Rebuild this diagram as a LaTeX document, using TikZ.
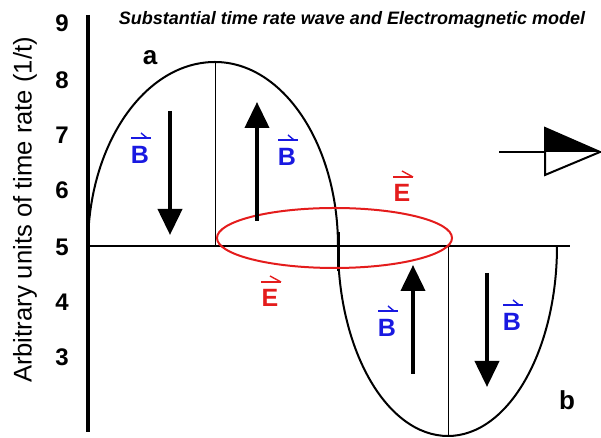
\documentclass[tikz,border=0pt]{standalone}
\usepackage{fontspec}
\setmainfont{Liberation Sans}
\usetikzlibrary{arrows.meta,calc}
\definecolor{vb}{RGB}{25,25,225}
\definecolor{vr}{RGB}{228,28,28}
\tikzset{
  curve/.style={line width=1pt, black},
  thinline/.style={line width=0.5pt, black},
  fieldarrow/.style={line width=2pt, -{Triangle[length=13pt,width=12pt]}},
  tick/.style={font=\fontsize{12}{12}\selectfont\bfseries, inner sep=0pt},
  blab/.style={font=\fontsize{12.5}{12}\selectfont\bfseries, text=vb, inner sep=0pt},
  elab/.style={font=\fontsize{12.5}{12}\selectfont\bfseries, text=vr, inner sep=0pt},
  bvec/.style={line width=0.7pt, vb},
  evec/.style={line width=0.7pt, vr},
  pointlab/.style={font=\fontsize{13}{13}\selectfont\bfseries, inner sep=0pt},
}
\begin{document}
\begin{tikzpicture}[x=0.5pt,y=0.5pt]
\useasboundingbox (0,0) rectangle (601,438);
% axes
\coordinate (ytop) at (88,423);
\coordinate (ybot) at (88,6);
\coordinate (xl) at (88,192);
\coordinate (xr) at (570,192);
\draw[line width=1.7pt] (ytop) -- (ybot);
\draw[line width=1pt] (xl) -- (xr);
% wave
\draw[curve] (88,192) arc[start angle=180,end angle=90,x radius=127,y radius=184]
  coordinate (peak)
  arc[start angle=90,end angle=0,x radius=123,y radius=184] coordinate (cross)
  arc[start angle=180,end angle=270,x radius=110,y radius=190] coordinate (trough)
  arc[start angle=270,end angle=360,x radius=109,y radius=190];
\draw[line width=1.5pt] (338,206) -- (338,167);
\coordinate (peakfoot) at (215,192);
\coordinate (troughfoot) at (448,192);
\draw[thinline] (peak) -- (peakfoot);
\draw[thinline] (troughfoot) -- (trough);
% red ellipse
\draw[vr, line width=1pt] (334.5,200) ellipse [x radius=117.5, y radius=30];
% field arrows
\coordinate (a1s) at (170,327); \coordinate (a1e) at (170,203);
\coordinate (a2s) at (257,217); \coordinate (a2e) at (257,336);
\coordinate (a3s) at (413,64);  \coordinate (a3e) at (413,173);
\coordinate (a4s) at (487,165); \coordinate (a4e) at (487,51);
\draw[fieldarrow] (a1s) -- (a1e);
\draw[fieldarrow] (a2s) -- (a2e);
\draw[fieldarrow] (a3s) -- (a3e);
\draw[fieldarrow] (a4s) -- (a4e);
% B labels
\foreach \n/\x/\y in {b1/140/283, b2/287/281, b3/387/110, b4/512/116}{
  \node[blab] (\n) at (\x,\y) {B};
  \draw[bvec] ([xshift=-4.5pt,yshift=4pt]\n.north) -- ([xshift=5.5pt,yshift=4pt]\n.north);
  \draw[bvec] ([xshift=0.5pt,yshift=6.5pt]\n.north) -- ([xshift=3.5pt,yshift=4pt]\n.north);
}
% E labels
\foreach \n/\x/\y in {e1/402/245, e2/270/140}{
  \node[elab] (\n) at (\x,\y) {E};
  \draw[evec] ([xshift=-4.5pt,yshift=3.5pt]\n.north) -- ([xshift=5.5pt,yshift=3.5pt]\n.north);
  \draw[evec] ([xshift=0pt,yshift=6.5pt]\n.north) -- ([xshift=5.5pt,yshift=3.5pt]\n.north);
}
% tick labels
\foreach \v/\y in {9/415,8/358,7/303,6/248,5/191,4/136,3/81}{
  \node[tick] (t\v) at (62,\y) {\v};
}
% axis label
\node[rotate=90, font=\fontsize{12.8}{13}\selectfont, inner sep=0pt] (ylab) at (25,228) {Arbitrary units of time rate (1/t)};
% title
\node[font=\fontsize{9}{9}\selectfont\bfseries\itshape, inner sep=0pt] (title) at (352,418) {Substantial time rate wave and Electromagnetic model};
% a, b
\node[pointlab] (la) at (150,380) {a};
\node[pointlab] (lb) at (567,38) {b};
% propagation symbol
\coordinate (ps) at (499,286);
\coordinate (pm) at (545,286);
\coordinate (pt) at (545,310);
\coordinate (pb) at (545,263);
\coordinate (ptip) at (600,286);
\draw[line width=1pt] (ps) -- (pm);
\fill[black] (pt) -- (ptip) -- (pm) -- cycle;
\draw[line width=1pt, line join=miter] (pt) -- (ptip) -- (pb) -- cycle;
\end{tikzpicture}
\end{document}
